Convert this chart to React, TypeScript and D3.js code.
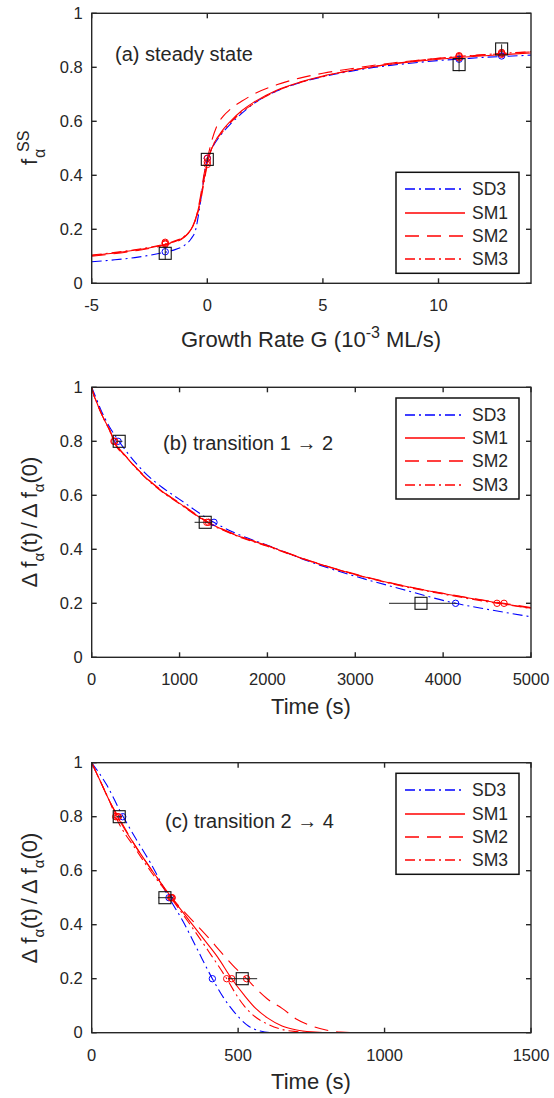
import React from 'react';
import * as d3 from 'd3';

const FONT = '"Liberation Sans", Arial, Helvetica, sans-serif';
const TXT = '#262626';
const BLUE = '#0000ff';
const RED = '#ff0000';

// ---------- shared ----------
const yTicks = [0, 0.2, 0.4, 0.6, 0.8, 1];
const legendNames = ['SD3', 'SM1', 'SM2', 'SM3'];

// ---------- panel (a) steady state ----------
const aXTicks = [-5, 0, 5, 10];
const aSD3G = [-5, -4, -3, -2, -1.5, -1, -0.7, -0.5, -0.35, -0.2, -0.1, 0, 0.2, 0.5, 1, 1.5, 2, 3, 4, 5, 6, 7, 8, 9, 10, 11, 12, 13, 14];
const aSD3F = [0.08, 0.087, 0.097, 0.112, 0.122, 0.14, 0.165, 0.2, 0.27, 0.36, 0.42, 0.46, 0.5, 0.54, 0.59, 0.63, 0.665, 0.712, 0.743, 0.765, 0.782, 0.797, 0.808, 0.817, 0.825, 0.831, 0.837, 0.841, 0.845];
const aSM1G = [-5, -4, -3, -2, -1.5, -1, -0.7, -0.5, -0.3, -0.15, 0, 0.15, 0.3, 0.6, 1, 1.5, 2, 3, 4, 5, 6, 7, 8, 9, 10, 11, 12, 13, 14];
const aSM1F = [0.103, 0.112, 0.124, 0.14, 0.152, 0.172, 0.2, 0.24, 0.31, 0.38, 0.445, 0.49, 0.52, 0.56, 0.6, 0.64, 0.67, 0.715, 0.745, 0.768, 0.785, 0.8, 0.812, 0.822, 0.83, 0.837, 0.843, 0.848, 0.853];
const aSM2G = [-5, -3, -2, -1.5, -1, -0.7, -0.5, -0.3, -0.15, 0, 0.2, 0.4, 0.7, 1, 1.5, 2, 3, 4, 5, 6, 7, 8, 9, 10, 11, 12, 13, 14];
const aSM2F = [0.1, 0.122, 0.138, 0.15, 0.17, 0.2, 0.24, 0.32, 0.4, 0.46, 0.53, 0.58, 0.62, 0.645, 0.675, 0.7, 0.735, 0.76, 0.778, 0.792, 0.805, 0.816, 0.825, 0.833, 0.84, 0.846, 0.852, 0.857];
const aSM3G = [-5, -3, -2, -1.5, -1, -0.7, -0.5, -0.3, -0.15, 0, 0.15, 0.3, 0.6, 1, 1.5, 2, 3, 4, 5, 6, 7, 8, 9, 10, 11, 12, 13, 14];
const aSM3F = [0.105, 0.126, 0.142, 0.154, 0.174, 0.2, 0.235, 0.3, 0.37, 0.44, 0.49, 0.52, 0.555, 0.595, 0.635, 0.665, 0.712, 0.743, 0.766, 0.785, 0.8, 0.813, 0.824, 0.833, 0.841, 0.847, 0.853, 0.858];
const aExpG = [-1.82, 0, 10.89, 12.73];
const aExpF = [0.111, 0.459, 0.81, 0.868];
const aExpLo = [0.088, 0.45, 0.785, 0.85];
const aExpHi = [0.135, 0.468, 0.845, 0.885];
const aBlueCG = [-1.82, 0, 10.89, 12.73];
const aBlueCF = [0.117, 0.463, 0.83, 0.842];
const aRedCG = [-1.82, -1.82, -1.82, 0, 0, 0, 10.89, 10.89, 10.89, 12.73, 12.73, 12.73];
const aRedCF = [0.145, 0.152, 0.148, 0.463, 0.45, 0.44, 0.835, 0.84, 0.843, 0.848, 0.852, 0.855];

// ---------- panel (b) transition 1 -> 2 ----------
const bXTicks = [0, 1000, 2000, 3000, 4000, 5000];
const bSD3T = [0, 50, 100, 200, 300, 400, 600, 800, 1000, 1390, 1600, 2000, 2500, 3000, 3500, 4140, 4500, 5000];
const bSD3F = [1, 0.96, 0.92, 0.855, 0.805, 0.76, 0.685, 0.63, 0.585, 0.5, 0.465, 0.415, 0.352, 0.3, 0.255, 0.2, 0.178, 0.15];
const bSM1T = [0, 25, 50, 100, 150, 200, 255, 400, 600, 800, 1000, 1320, 1600, 2000, 2500, 3000, 3500, 4000, 4650, 5000];
const bSM1F = [1, 0.97, 0.95, 0.91, 0.875, 0.845, 0.8, 0.74, 0.67, 0.615, 0.57, 0.5, 0.458, 0.413, 0.355, 0.307, 0.268, 0.236, 0.2, 0.182];
const bSM2T = [0, 25, 50, 100, 150, 200, 260, 400, 600, 800, 1000, 1330, 1600, 2000, 2500, 3000, 3500, 4000, 4690, 5000];
const bSM2F = [1, 0.97, 0.95, 0.91, 0.876, 0.846, 0.8, 0.741, 0.672, 0.617, 0.572, 0.5, 0.459, 0.414, 0.356, 0.308, 0.269, 0.237, 0.2, 0.184];
const bSM3T = [0, 25, 50, 100, 150, 200, 250, 400, 600, 800, 1000, 1310, 1600, 2000, 2500, 3000, 3500, 4000, 4610, 5000];
const bSM3F = [1, 0.97, 0.95, 0.91, 0.874, 0.843, 0.8, 0.739, 0.668, 0.613, 0.568, 0.5, 0.456, 0.411, 0.354, 0.306, 0.266, 0.234, 0.2, 0.181];
const bExpT = [313, 1292, 3748];
const bExpF = [0.8, 0.5, 0.2];
const bExpLo = [275, 1171, 3384];
const bExpHi = [350, 1372, 4150];
const bBlueCT = [300, 1392, 4142];
const bBlueCF = [0.8, 0.5, 0.2];
const bRedCT = [253, 262, 1310, 1330, 4613, 4693];
const bRedCF = [0.8, 0.8, 0.5, 0.5, 0.2, 0.2];

// ---------- panel (c) transition 2 -> 4 ----------
const cXTicks = [0, 500, 1000, 1500];
const cSD3T = [0, 50, 100, 150, 200, 264, 313, 360, 412, 450, 484, 535, 575, 620, 700, 1500];
const cSD3F = [1, 0.92, 0.815, 0.72, 0.63, 0.5, 0.41, 0.31, 0.2, 0.13, 0.08, 0.025, 0.006, 0, 0, 0];
const cSM1T = [0, 30, 60, 88, 150, 200, 273, 330, 380, 430, 478, 520, 560, 600, 650, 700, 750, 800, 1500];
const cSM1F = [1, 0.93, 0.86, 0.8, 0.69, 0.61, 0.5, 0.42, 0.35, 0.28, 0.2, 0.14, 0.09, 0.055, 0.025, 0.01, 0.003, 0, 0];
const cSM2T = [0, 30, 60, 91, 150, 200, 273, 340, 400, 440, 490, 529, 560, 600, 650, 700, 750, 800, 850, 900, 1500];
const cSM2F = [1, 0.93, 0.86, 0.8, 0.69, 0.61, 0.5, 0.42, 0.35, 0.3, 0.24, 0.2, 0.165, 0.125, 0.09, 0.05, 0.025, 0.01, 0.002, 0, 0];
const cSM3T = [0, 30, 60, 82, 150, 200, 270, 330, 400, 461, 500, 520, 557, 600, 650, 700, 760, 1500];
const cSM3F = [1, 0.93, 0.86, 0.8, 0.68, 0.6, 0.5, 0.41, 0.3, 0.2, 0.13, 0.1, 0.06, 0.032, 0.012, 0.004, 0, 0];
const cExpT = [94, 250, 514];
const cExpF = [0.8, 0.5, 0.2];
const cExpLo = [84, 227, 466];
const cExpHi = [104, 279, 565];
const cBlueCT = [106, 264, 412];
const cBlueCF = [0.8, 0.5, 0.2];
const cRedCT = [82, 88, 91, 270, 273, 275, 461, 478, 529];
const cRedCF = [0.8, 0.8, 0.8, 0.5, 0.5, 0.5, 0.2, 0.2, 0.2];

// ---------- layout ----------
const W = 554, H = 1098;
const LEFT = 91.7, RIGHT = 531, PH = 270;

type Series = { x: number[]; y: number[]; color: string; dash?: string };

const STYLES: { color: string; dash?: string }[] = [
  { color: BLUE, dash: '10,4,2,4' },
  { color: RED },
  { color: RED, dash: '14,8' },
  { color: RED, dash: '10,4,2,4' },
];

type PanelProps = {
  top: number;
  xDomain: [number, number];
  xTicks: number[];
  series: Series[];
  expX: number[]; expY: number[]; expLo: number[]; expHi: number[]; errDir: 'v' | 'h';
  blueX: number[]; blueY: number[]; redX: number[]; redY: number[];
  legendTop: number;
  annot: React.ReactNode;
  xlabel: React.ReactNode;
  ylabel: React.ReactNode;
};

function Panel(p: PanelProps) {
  const x = d3.scaleLinear().domain(p.xDomain).range([LEFT, RIGHT]);
  const y = d3.scaleLinear().domain([0, 1]).range([p.top + PH, p.top]);
  const bottom = p.top + PH;
  const line = d3.line<[number, number]>().x(d => x(d[0])).y(d => y(d[1])).curve(d3.curveMonotoneX);
  const tl = 5;
  return (
    <g>
      <defs>
        <clipPath id={`clip${Math.round(p.top)}`}>
          <rect x={LEFT} y={p.top} width={RIGHT - LEFT} height={PH} />
        </clipPath>
      </defs>
      <g clipPath={`url(#clip${Math.round(p.top)})`}>
        {p.series.map((s, i) => (
          <path key={i} d={line(s.x.map((v, j) => [v, s.y[j]] as [number, number])) || ''}
            fill="none" stroke={s.color} strokeWidth={1.1} strokeDasharray={s.dash} />
        ))}
      </g>
      {p.blueX.map((v, i) => (
        <circle key={'b' + i} cx={x(v)} cy={y(p.blueY[i])} r={3.2} fill="none" stroke={BLUE} strokeWidth={1} />
      ))}
      {p.redX.map((v, i) => (
        <circle key={'r' + i} cx={x(v)} cy={y(p.redY[i])} r={3.2} fill="none" stroke={RED} strokeWidth={1} />
      ))}
      {p.expX.map((v, i) => (
        <g key={'e' + i}>
          {p.errDir === 'v' ? (
            <line x1={x(v)} x2={x(v)} y1={y(p.expLo[i])} y2={y(p.expHi[i])} stroke="#222" strokeWidth={1} />
          ) : (
            <line x1={x(p.expLo[i])} x2={x(p.expHi[i])} y1={y(p.expY[i])} y2={y(p.expY[i])} stroke="#222" strokeWidth={1} />
          )}
          <rect x={x(v) - 6} y={y(p.expY[i]) - 6} width={12} height={12} fill="none" stroke="#111" strokeWidth={1.1} />
        </g>
      ))}
      {/* axes box */}
      <rect x={LEFT} y={p.top} width={RIGHT - LEFT} height={PH} fill="none" stroke={TXT} strokeWidth={1.4} />
      {yTicks.map(t => (
        <g key={'yt' + t}>
          <line x1={LEFT} x2={LEFT + tl} y1={y(t)} y2={y(t)} stroke={TXT} strokeWidth={1.4} />
          <line x1={RIGHT} x2={RIGHT - tl} y1={y(t)} y2={y(t)} stroke={TXT} strokeWidth={1.4} />
          <text x={LEFT - 9} y={y(t)} dy="0.35em" textAnchor="end" fontSize={16.5} fill={TXT}>{t}</text>
        </g>
      ))}
      {p.xTicks.map(t => (
        <g key={'xt' + t}>
          <line x1={x(t)} x2={x(t)} y1={bottom} y2={bottom - tl} stroke={TXT} strokeWidth={1.4} />
          <line x1={x(t)} x2={x(t)} y1={p.top} y2={p.top + tl} stroke={TXT} strokeWidth={1.4} />
          <text x={x(t)} y={bottom + 28} textAnchor="middle" fontSize={16.5} fill={TXT}>{t}</text>
        </g>
      ))}
      {/* legend */}
      <rect x={396} y={p.legendTop} width={123} height={101} fill="#fff" stroke="#111" strokeWidth={1.5} />
      {legendNames.map((n, i) => {
        const ly = Math.round(p.legendTop + 17 + i * 23.2);
        const st = STYLES[i];
        return (
          <g key={n}>
            <line x1={405} x2={465} y1={ly} y2={ly} stroke={st.color} strokeWidth={1.4} strokeDasharray={st.dash} />
            <text x={472} y={ly} dy="0.35em" fontSize={17.5} fill={TXT}>{n}</text>
          </g>
        );
      })}
      {p.annot}
      {p.xlabel}
      {p.ylabel}
    </g>
  );
}

function mk(xs: number[][], ys: number[][]): Series[] {
  return xs.map((xv, i) => ({ x: xv, y: ys[i], color: STYLES[i].color, dash: STYLES[i].dash }));
}

function DeltaLabel({ cy }: { cy: number }) {
  return (
    <g transform={`translate(37,${cy}) rotate(-90)`}>
      <text x={0} y={0} textAnchor="middle" fontSize={22} fill={TXT}>
        Δ<tspan dx={5}>f</tspan><tspan fontSize={15} dy={7}>α</tspan><tspan dy={-7}>(t)</tspan><tspan dx={4}>/</tspan><tspan dx={4}>Δ</tspan><tspan dx={5}>f</tspan><tspan fontSize={15} dy={7}>α</tspan><tspan dy={-7}>(0)</tspan>
      </text>
    </g>
  );
}

export default function App() {
  const topA = 13.3, topB = 387.3, topC = 762.7;
  return (
    <div style={{ position: 'absolute', left: 0, top: 0 }}>
      <svg width={W} height={H} style={{ display: 'block', fontFamily: FONT }}>
        <rect width={W} height={H} fill="#fff" />
        <Panel
          top={topA} xDomain={[-5, 14]} xTicks={aXTicks}
          series={mk([aSD3G, aSM1G, aSM2G, aSM3G], [aSD3F, aSM1F, aSM2F, aSM3F])}
          expX={aExpG} expY={aExpF} expLo={aExpLo} expHi={aExpHi} errDir="v"
          blueX={aBlueCG} blueY={aBlueCF} redX={aRedCG} redY={aRedCF}
          legendTop={172.3}
          annot={<text x={115} y={61} fontSize={20} fill={TXT}>(a) steady state</text>}
          xlabel={
            <text x={311} y={347} textAnchor="middle" fontSize={22} fill={TXT}>
              Growth Rate G (10<tspan fontSize={16} dy={-9}>-3</tspan><tspan dy={9}> ML/s)</tspan>
            </text>
          }
          ylabel={
            <g transform={`translate(37,148) rotate(-90)`}>
              <text x={-17} y={0} fontSize={22} fill={TXT}>f</text>
              <text x={-4} y={-8} fontSize={16} fill={TXT}>SS</text>
              <text x={-10} y={8} fontSize={16} fill={TXT}>α</text>
            </g>
          }
        />
        <Panel
          top={topB} xDomain={[0, 5000]} xTicks={bXTicks}
          series={mk([bSD3T, bSM1T, bSM2T, bSM3T], [bSD3F, bSM1F, bSM2F, bSM3F])}
          expX={bExpT} expY={bExpF} expLo={bExpLo} expHi={bExpHi} errDir="h"
          blueX={bBlueCT} blueY={bBlueCF} redX={bRedCT} redY={bRedCF}
          legendTop={398}
          annot={<text x={163} y={450} fontSize={20} fill={TXT}>(b) transition 1 → 2</text>}
          xlabel={<text x={311} y={714} textAnchor="middle" fontSize={22} fill={TXT}>Time (s)</text>}
          ylabel={<DeltaLabel cy={522} />}
        />
        <Panel
          top={topC} xDomain={[0, 1500]} xTicks={cXTicks}
          series={mk([cSD3T, cSM1T, cSM2T, cSM3T], [cSD3F, cSM1F, cSM2F, cSM3F])}
          expX={cExpT} expY={cExpF} expLo={cExpLo} expHi={cExpHi} errDir="h"
          blueX={cBlueCT} blueY={cBlueCF} redX={cRedCT} redY={cRedCF}
          legendTop={773.3}
          annot={<text x={165} y={828} fontSize={20} fill={TXT}>(c) transition 2 → 4</text>}
          xlabel={<text x={311} y={1089} textAnchor="middle" fontSize={22} fill={TXT}>Time (s)</text>}
          ylabel={<DeltaLabel cy={898} />}
        />
      </svg>
    </div>
  );
}
